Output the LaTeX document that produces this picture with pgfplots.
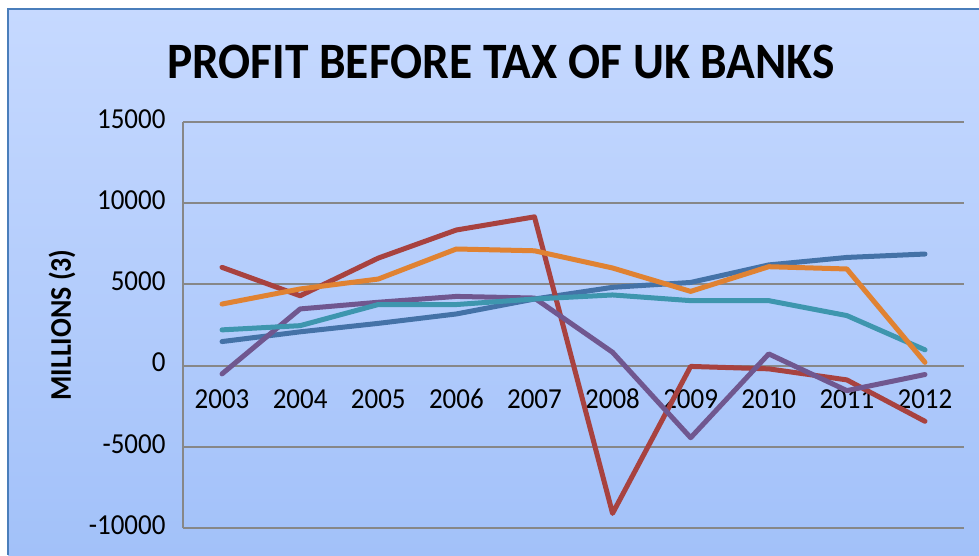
\documentclass[border=0pt]{standalone}
\usepackage{pgfplots}
\pgfplotsset{compat=1.18}
\usepackage{fontspec}
\setmainfont{Carlito}[FakeStretch=0.93]
\newfontfamily\plainfont{Carlito}

\definecolor{bgtop}{RGB}{198,217,255}
\definecolor{bgbot}{RGB}{162,193,249}
\definecolor{frame}{RGB}{74,126,187}
\definecolor{gridgray}{RGB}{135,135,135}
\definecolor{sBlue}{RGB}{68,114,167}
\definecolor{sRed}{RGB}{168,66,63}
\definecolor{sPurple}{RGB}{112,87,143}
\definecolor{sTeal}{RGB}{62,150,174}
\definecolor{sOrange}{RGB}{224,130,50}

\begin{document}
\begin{tikzpicture}[x=1pt,y=1pt]
\useasboundingbox (0,0) rectangle (979,555);
\fill[white] (0,0) rectangle (979,555);
\shade[top color=bgtop, bottom color=bgbot] (8,0) rectangle (979,546);
\draw[frame, line width=2.5pt] (8,0) -- (8,546) -- (979,546);

\node[font=\fontsize{51}{55}\selectfont\bfseries] at (501,493) {PROFIT BEFORE TAX OF UK BANKS};
\node[font=\plainfont\fontsize{30}{32}\selectfont\bfseries, rotate=90, inner sep=0pt] at (62,230) {\scalebox{0.93}[1]{MILLIONS (3)}};

\begin{axis}[
  at={(183pt,27pt)}, anchor=south west,
  scale only axis, width=781pt, height=406pt,
  xmin=-0.5, xmax=9.5, ymin=-10000, ymax=15000,
  scaled y ticks=false,
  axis x line=middle, axis y line=left,
  x axis line style={draw=none},
  y axis line style={-, draw=gridgray, line width=2pt},
  major tick length=0pt,
  xtick={0,...,9},
  xticklabels={2003,2004,2005,2006,2007,2008,2009,2010,2011,2012},
  ytick={-10000,-5000,0,5000,10000,15000},
  yticklabels={-10000,-5000,0,5000,10000,15000},
  tick label style={font=\fontsize{29}{31}\selectfont},
  typeset ticklabels with strut,
  xticklabel style={anchor=north, yshift=-18pt},
  yticklabel style={xshift=-14pt},
  ymajorgrids, grid style={draw=gridgray, line width=2pt},
  every axis plot/.append style={line width=5pt, line join=round, line cap=round, mark=none},
  clip=false,
]
\addplot[sBlue] coordinates {(0,1480) (1,2080) (2,2600) (3,3180) (4,4100) (5,4820) (6,5120) (7,6200) (8,6660) (9,6870)};
\addplot[sRed] coordinates {(0,6050) (1,4300) (2,6620) (3,8350) (4,9160) (5,-9100) (6,-50) (7,-200) (8,-880) (9,-3430)};
\addplot[sPurple] coordinates {(0,-510) (1,3490) (2,3900) (3,4260) (4,4160) (5,820) (6,-4440) (7,720) (8,-1540) (9,-550)};
\addplot[sTeal] coordinates {(0,2200) (1,2460) (2,3760) (3,3760) (4,4100) (5,4350) (6,4000) (7,4000) (8,3080) (9,970)};
\addplot[sOrange] coordinates {(0,3790) (1,4720) (2,5330) (3,7180) (4,7070) (5,6010) (6,4570) (7,6090) (8,5950) (9,200)};
\end{axis}
\end{tikzpicture}
\end{document}
